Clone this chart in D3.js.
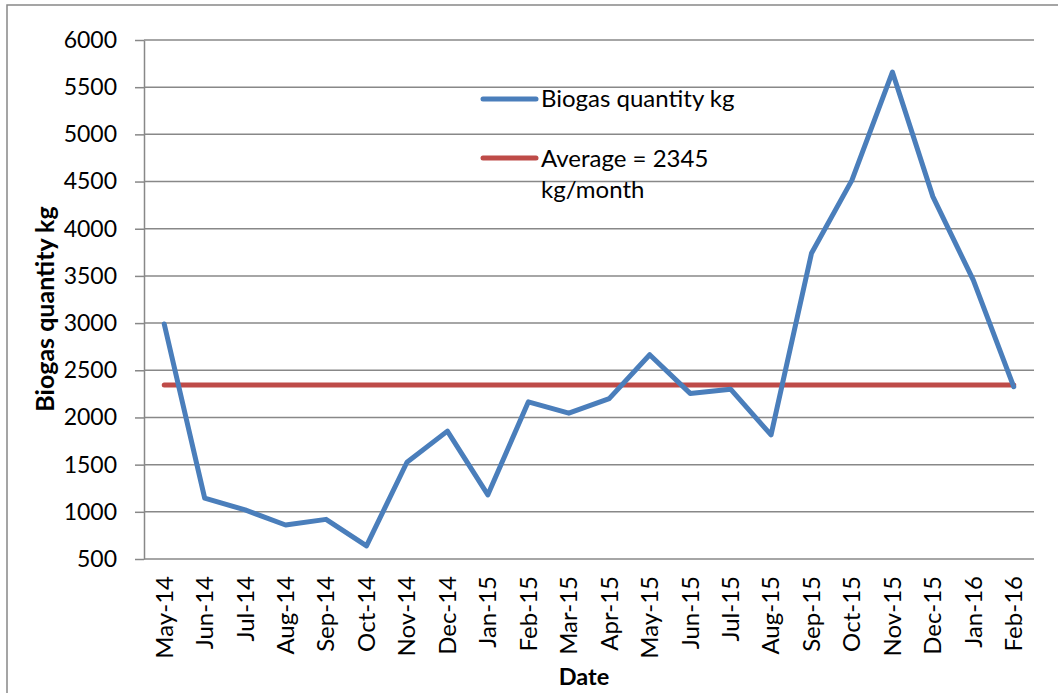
<!DOCTYPE html>
<html>
<head>
<meta charset="utf-8">
<script src="https://cdn.jsdelivr.net/npm/d3@7"></script>
<style>
  html, body { margin: 0; padding: 0; background: #fff; }
  svg { display: block; font-family: Lato, "Open Sans", sans-serif; }
</style>
</head>
<body>
<svg id="chart" width="1058" height="693"></svg>
<script>
const categories = ["May-14","Jun-14","Jul-14","Aug-14","Sep-14","Oct-14","Nov-14","Dec-14",
  "Jan-15","Feb-15","Mar-15","Apr-15","May-15","Jun-15","Jul-15","Aug-15",
  "Sep-15","Oct-15","Nov-15","Dec-15","Jan-16","Feb-16"];
const biogas = [2990,1145,1020,860,920,640,1525,1855,1180,2165,2045,2200,2665,2255,2300,1815,
  3740,4515,5660,4340,3455,2325];
const averageValue = 2345;
const yTicks = [500,1000,1500,2000,2500,3000,3500,4000,4500,5000,5500,6000];
const seriesNames = ["Biogas quantity kg", "Average = 2345 kg/month"];
const yTitle = "Biogas quantity kg";
const xTitle = "Date";

(function () {
const svg = d3.select("#chart");
const pLeft = 144, pRight = 1034, pTop = 40, pBottom = 559;
const gridColor = "#888888";
const blue = "#4A7EBB", red = "#BE4B48";
const fs = 24;

// outer border
svg.append("rect").attr("x", 7).attr("y", 5).attr("width", 1200).attr("height", 900)
  .attr("fill", "none").attr("stroke", gridColor).attr("stroke-width", 1.5);

const x = d3.scaleBand().domain(categories).range([pLeft, pRight]).padding(0);
const cx = d => x(d) + x.bandwidth() / 2;
const y = d3.scaleLinear().domain([500, 6000]).range([pBottom, pTop]);

// gridlines
svg.append("g").selectAll("line").data(yTicks.filter(v => v !== 500)).join("line")
  .attr("x1", pLeft).attr("x2", pRight)
  .attr("y1", d => y(d)).attr("y2", d => y(d))
  .attr("stroke", gridColor).attr("stroke-width", 1.5);

// y axis
const yAxis = svg.append("g").attr("transform", `translate(${pLeft},0)`)
  .call(d3.axisLeft(y).tickValues(yTicks).tickFormat(d3.format("d"))
    .tickSize(9).tickSizeOuter(0).tickPadding(18));
yAxis.select(".domain").attr("stroke", gridColor).attr("stroke-width", 1.5);
yAxis.selectAll(".tick line").attr("stroke", gridColor).attr("stroke-width", 1.5);
yAxis.selectAll("text").attr("font-size", 23).attr("fill", "#000")
  .attr("font-family", "Lato, sans-serif");

// x axis
const xAxis = svg.append("g").attr("transform", `translate(0,${pBottom})`)
  .call(d3.axisBottom(x).tickSize(0).tickSizeOuter(0));
xAxis.select(".domain").attr("stroke", gridColor).attr("stroke-width", 1.5)
  .attr("d", `M${pLeft},0H${pRight}`);
xAxis.selectAll("text")
  .attr("font-size", fs).attr("fill", "#000").attr("font-family", "Lato, sans-serif")
  .attr("transform", "rotate(-90)")
  .attr("text-anchor", "end")
  .attr("x", -17).attr("y", 0).attr("dy", "0.35em");

// average line
svg.append("line")
  .attr("x1", cx(categories[0])).attr("x2", cx(categories[categories.length - 1]))
  .attr("y1", y(averageValue)).attr("y2", y(averageValue))
  .attr("stroke", red).attr("stroke-width", 5).attr("stroke-linecap", "round");

// biogas series
const line = d3.line().x((d, i) => cx(categories[i])).y(d => y(d));
svg.append("path").datum(biogas)
  .attr("d", line).attr("fill", "none")
  .attr("stroke", blue).attr("stroke-width", 5)
  .attr("stroke-linejoin", "round").attr("stroke-linecap", "round");

// legend
const lg = svg.append("g");
lg.append("line").attr("x1", 483).attr("x2", 536).attr("y1", 99).attr("y2", 99)
  .attr("stroke", blue).attr("stroke-width", 5).attr("stroke-linecap", "round");
lg.append("text").attr("x", 541).attr("y", 107).attr("font-size", fs).text(seriesNames[0]);
lg.append("line").attr("x1", 483).attr("x2", 536).attr("y1", 158).attr("y2", 158)
  .attr("stroke", red).attr("stroke-width", 5).attr("stroke-linecap", "round");
lg.append("text").attr("x", 541).attr("y", 167).attr("font-size", fs).text("Average = 2345");
lg.append("text").attr("x", 541).attr("y", 198).attr("font-size", fs).text("kg/month");

// axis titles
svg.append("text").attr("transform", `translate(54,${(205 + 413) / 2}) rotate(-90)`)
  .attr("text-anchor", "middle").attr("font-size", 25).attr("font-weight", "bold")
  .text(yTitle);
svg.append("text").attr("x", 584).attr("y", 685).attr("text-anchor", "middle")
  .attr("font-size", 23.5).attr("font-weight", "bold").text(xTitle);
})();
</script>
</body>
</html>
